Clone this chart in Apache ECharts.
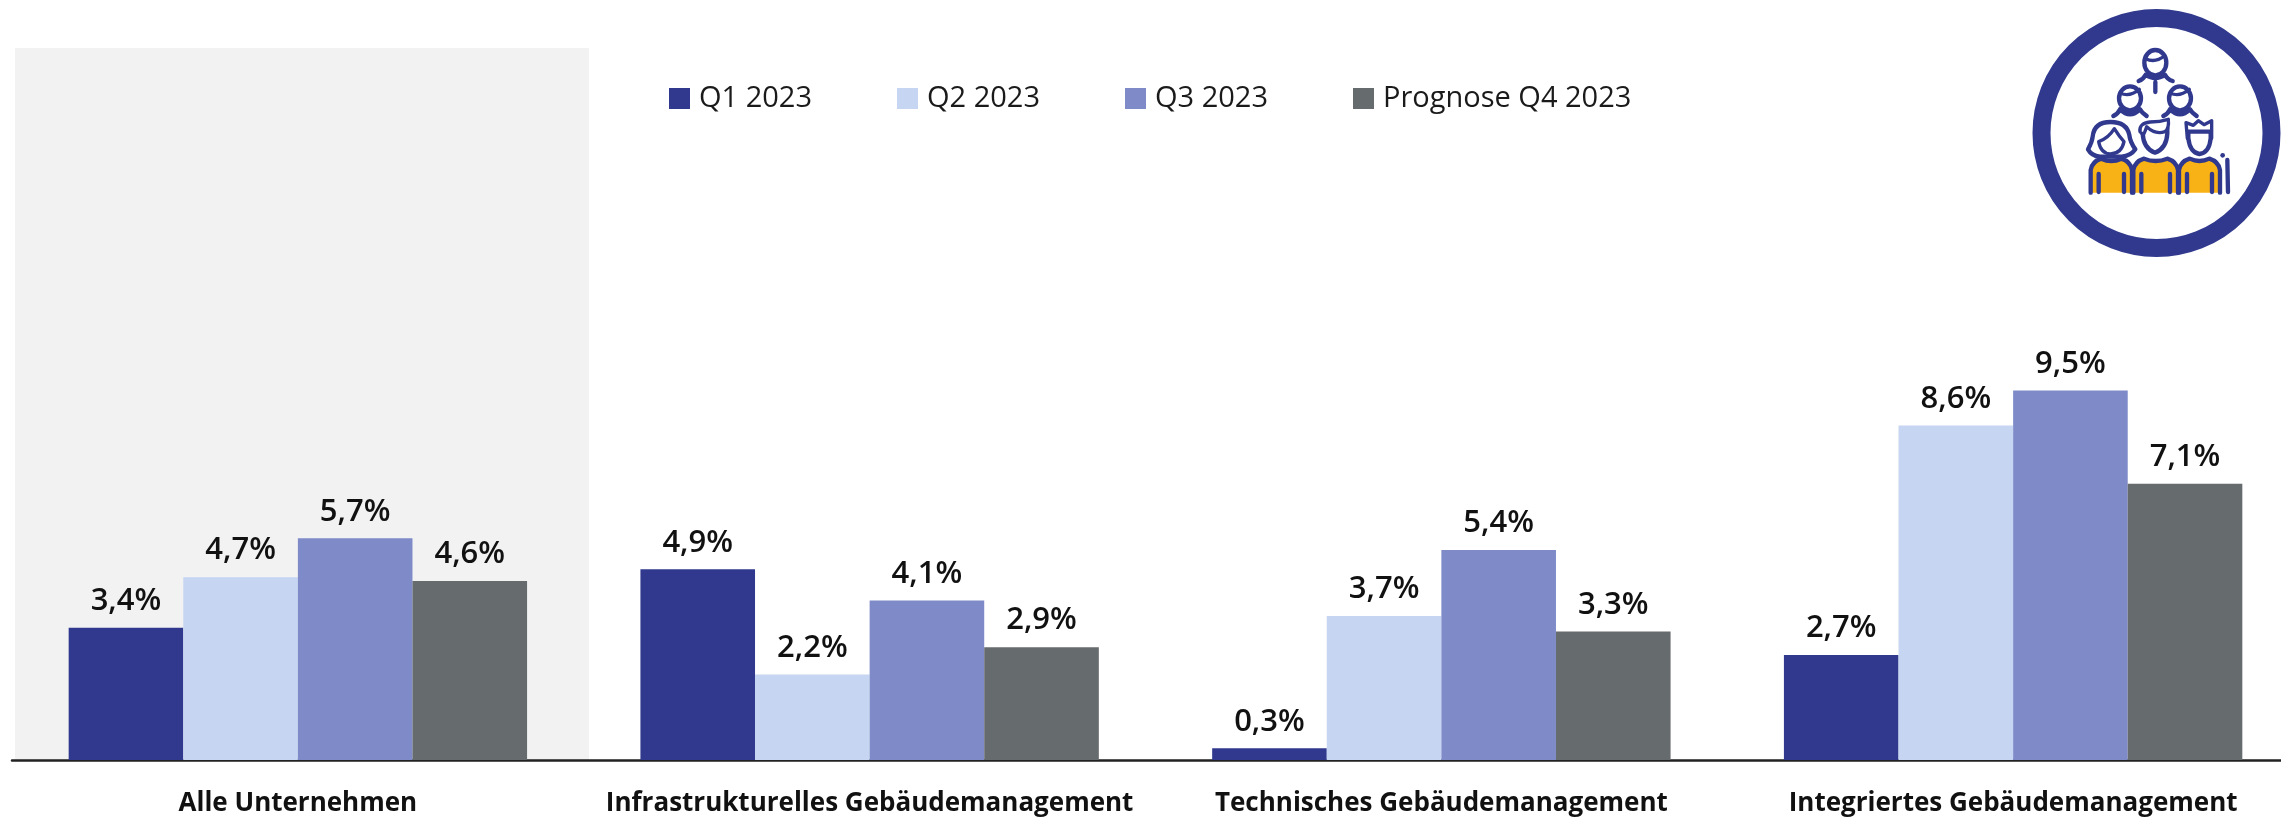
<!DOCTYPE html>
<html><head><meta charset="utf-8">
<style>html,body{margin:0;padding:0;background:#fff}#c{width:2281px;height:819px}</style>
<script src="https://cdn.jsdelivr.net/npm/echarts@6/dist/echarts.min.js"></script>
</head><body><div id="c"></div>
<script>
const categories = ['Alle Unternehmen','Infrastrukturelles Gebäudemanagement','Technisches Gebäudemanagement','Integriertes Gebäudemanagement'];
const q1 = [3.4,4.9,0.3,2.7];
const q2 = [4.7,2.2,3.7,8.6];
const q3 = [5.7,4.1,5.4,9.5];
const q4 = [4.6,2.9,3.3,7.1];
const seriesNames = ['Q1 2023','Q2 2023','Q3 2023','Prognose Q4 2023'];
const colors = ['#30398D','#C5D5F2','#7E8BC8','#666B6E'];
const FONT = '"Open Sans"';
const navy = '#30398D';
const yellow = '#F9B216';

const chart = echarts.init(document.getElementById('c'));
let shapeCount = 0;
function pathEl(d, style){
  const name = 'iconPath' + (shapeCount++);
  echarts.graphic.registerShape(name, echarts.graphic.extendPath(d, {}));
  return {type:name, shape:{}, style};
}
const line = (d,w)=>pathEl(d,{fill:'none',stroke:navy,lineWidth:w||13,lineCap:'round',lineJoin:'round'});
const fillLine = (d,f,w)=>pathEl(d,{fill:f,stroke:navy,lineWidth:w||13,lineJoin:'round',lineCap:'round'});
const head = (cx,cy,rx,ry)=>({type:'ellipse',shape:{cx,cy,rx,ry},style:{fill:'#fff',stroke:navy,lineWidth:13}});
const body = (x0,x1)=>[
  pathEl(`M${x0},578 L${x0},510 Q${x0+4},485 ${x0+32},476 Q${(x0+x1)/2},490 ${x1-32},476 Q${x1-4},485 ${x1},510 L${x1},578 Z`,{fill:yellow}),
  line(`M${x0},578 L${x0},510 Q${x0+4},485 ${x0+32},476 Q${(x0+x1)/2},490 ${x1-32},476 Q${x1-4},485 ${x1},510 L${x1},578`),
  line(`M${x0+24},522 L${x0+24},576`), line(`M${x1-24},522 L${x1-24},576`)
];
const iconParts = [
  head(526,188,33,38), line('M497,176 Q525,190 553,168',10),
  line('M476,243 Q490,238 497,224 Q526,244 555,224 Q562,238 578,243'), line('M526,246 L526,276'),
  head(450,295,33,36), line('M421,280 Q450,292 478,268',10),
  line('M400,348 Q415,340 420,328 Q450,357 480,328 Q486,340 500,348'),
  head(600,295,33,36), line('M571,280 Q600,292 628,268',10),
  line('M550,348 Q565,340 570,328 Q600,357 630,328 Q636,340 650,348'),
  ...body(332,456), ...body(460,594), ...body(597,720),
  line('M742,480 L744,576'),
  {type:'circle',shape:{cx:728,cy:466,r:7},style:{fill:navy}},
  fillLine('M392,366 Q342,366 338,410 Q336,428 324,448 Q335,468 360,470 L425,470 Q452,468 466,448 Q450,425 448,405 Q440,366 392,366 Z','#fff'),
  fillLine('M356,425 Q385,415 403,386 Q418,410 432,425 Q425,460 392,462 Q362,460 356,425 Z','#fff',10),
  fillLine('M488,400 Q490,445 525,458 Q560,445 562,400 L562,385 Q530,400 500,378 Z','#fff'),
  fillLine('M480,395 Q476,370 510,366 Q540,366 565,358 Q568,385 555,395 Q525,405 500,380 Q495,395 490,405 Z','#fff',10),
  fillLine('M625,415 Q630,458 658,462 Q688,458 692,415 L692,395 L625,395 Z','#fff'),
  line('M622,415 L618,368 L640,376 L655,362 L672,374 L695,362 L695,415',10)
];

chart.setOption({
  animation:false,
  backgroundColor:'#fff',
  textStyle:{fontFamily:FONT},
  legend:{
    left:669, top:84, padding:0, itemWidth:21, itemHeight:21, itemGap:85,
    icon:'rect', selectedMode:false,
    textStyle:{fontFamily:FONT,fontSize:29,color:'#1a1a1a',padding:[0,0,0,4]},
    data:seriesNames
  },
  grid:{left:12,top:48,width:2287,height:712,containLabel:false,outerBoundsMode:'none'},
  xAxis:{
    type:'category',data:categories,
    axisLine:{lineStyle:{color:'#222',width:2.5}},
    axisTick:{show:false},
    axisLabel:{interval:0,margin:31,color:'#111',fontFamily:FONT,fontSize:26,fontWeight:700}
  },
  yAxis:{type:'value',min:0,max:18.3,show:false,splitLine:{show:false}},
  series:[q1,q2,q3,q4].map((d,i)=>({
    type:'bar',name:seriesNames[i],data:d,barWidth:114.6,barGap:0,
    itemStyle:{color:colors[i]},
    label:{show:true,position:'top',distance:11,color:'#111',fontFamily:FONT,fontSize:31,fontWeight:600,
      formatter:p=>p.value.toFixed(1).replace('.',',')+'%'}
  })),
  graphic:[
    {type:'rect',z:-1,silent:true,shape:{x:15,y:48,width:574,height:712},style:{fill:'#F2F2F2'}},
    {type:'circle',silent:true,shape:{cx:2156.5,cy:133,r:115},style:{fill:'none',stroke:navy,lineWidth:18}},
    {type:'group',silent:true,x:1980,y:0,scaleX:1/3,scaleY:1/3,children:iconParts}
  ]
});
</script></body></html>
